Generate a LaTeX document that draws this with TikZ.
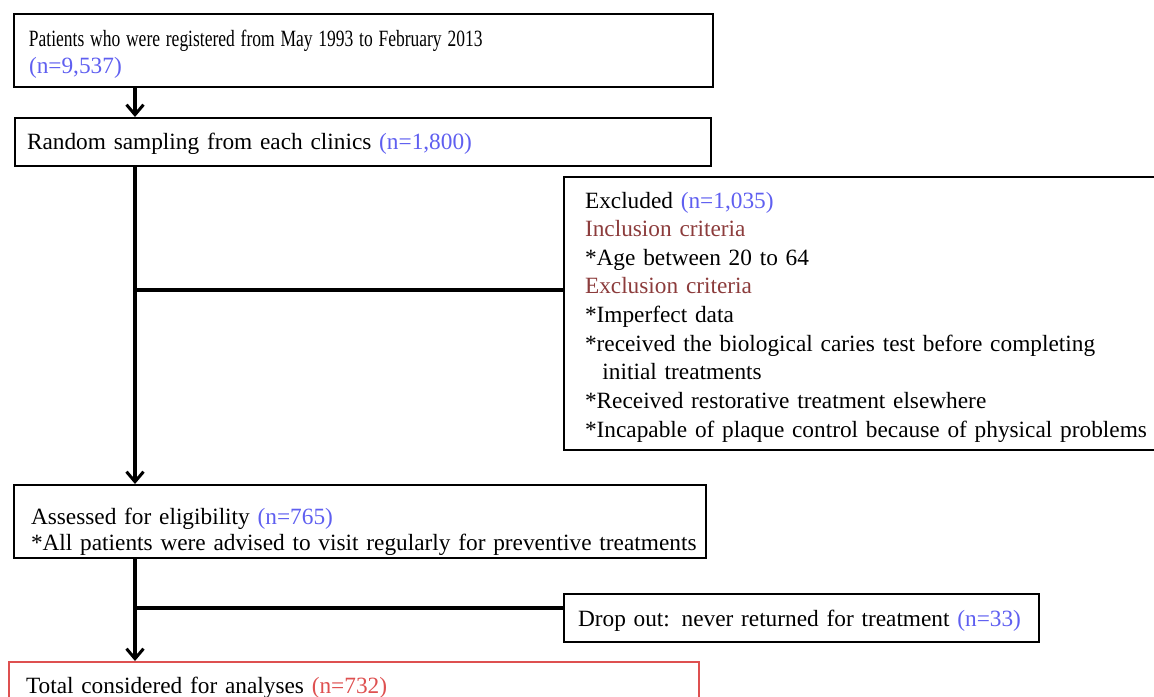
\documentclass[tikz,border=0pt]{standalone}
\usepackage{fontspec}
\setmainfont{Liberation Serif}
\usetikzlibrary{arrows.meta}
\definecolor{nblue}{RGB}{95,95,240}
\definecolor{critred}{RGB}{140,60,60}
\definecolor{totred}{RGB}{222,80,80}
\tikzset{
  flowbox/.style={draw,line width=2bp,anchor=north west,inner ysep=0bp,align=left,font=\fontsize{23.4}{28}\selectfont},
  flowline/.style={line width=3.5bp},
  flowarrow/.style={line width=3.5bp,-{Straight Barb[length=10bp,width=17bp,line width=3bp]}}
}
\newcommand{\nnum}[1]{\textcolor{nblue}{#1}}
\newcommand{\crit}[1]{\textcolor{critred}{#1}}
\newcommand{\up}[1]{\rule{0pt}{#1bp}}
\newcommand{\down}[1]{\rule[-#1bp]{0pt}{0pt}}

\begin{document}
\begin{tikzpicture}
\useasboundingbox (0bp,0bp) rectangle (1154bp,-697bp);

\node (reg) at (13bp,-13bp)[flowbox,inner xsep=15bp,text width=669bp] {\up{32}\scalebox{0.75}[1]{Patients who were registered from May 1993 to February 2013}\\ \nnum{(n=9,537)}\down{13}};
\node (samp) at (14bp,-117bp)[flowbox,inner xsep=12bp,text width=672bp] {\up{31}Random sampling from each clinics \nnum{(n=1,800)}\down{17}};
\node (excl) at (563bp,-176bp)[flowbox,inner xsep=21bp,text width=660bp,font=\fontsize{23.4}{28.75}\selectfont] {\up{31}Excluded \nnum{(n=1,035)}\\ \crit{Inclusion criteria}\\ {*}Age between 20 to 64\\ \crit{Exclusion criteria}\\ {*}Imperfect data\\ {*}received the biological caries test before completing\\ \hspace*{0.75em}initial treatments\\ {*}Received restorative treatment elsewhere\\ {*}Incapable of plaque control because of physical problems\down{13}};
\node (elig) at (13bp,-484bp)[flowbox,inner xsep=17bp,text width=658bp,font=\fontsize{23.4}{27}\selectfont] {\up{39}Assessed for eligibility \nnum{(n=765)}\\ \mbox{{*}All patients were advised to visit regularly for preventive treatments}\down{7}};
\node (drop) at (563bp,-593bp)[flowbox,inner xsep=14bp,text width=447bp] {\up{32}Drop out: never returned for treatment \nnum{(n=33)}\down{16}};
\node (total) at (8bp,-661bp)[flowbox,draw=totred,inner xsep=17bp,text width=656bp] {\up{31}Total considered for analyses \textcolor{totred}{(n=732)}\down{30}};

\coordinate (spine) at (135bp,0bp);
\coordinate (exclj) at (135bp,-290bp);
\coordinate (dropj) at (135bp,-608bp);

\draw [flowarrow] (reg.south -| spine) -- (samp.north -| spine);
\draw [flowarrow] (samp.south -| spine) -- (elig.north -| spine);
\draw [flowline] (exclj) -- (exclj -| excl.west);
\draw [flowarrow] (elig.south -| spine) -- (total.north -| spine);
\draw [flowline] (dropj) -- (dropj -| drop.west);
\end{tikzpicture}
\end{document}
